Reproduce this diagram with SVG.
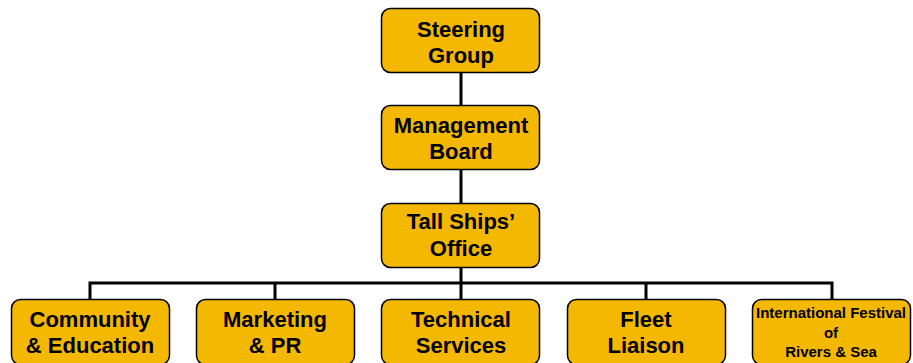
<svg xmlns="http://www.w3.org/2000/svg" width="913" height="363" viewBox="0 0 913 363">
  <style>
    .box { fill: #F5B800; stroke: #000; stroke-width: 1.5; }
    .lbl { font-family: "Liberation Sans", Arial, sans-serif; font-weight: bold; font-size: 22px; fill: #000; text-anchor: middle; }
    .sm { font-size: 15px; }
    .wire { stroke: #000; stroke-width: 3; fill: none; }
  </style>
  <rect width="913" height="363" fill="#fff"/>

  <g id="connectors">
    <line class="wire" x1="461" y1="73" x2="461" y2="105"/>
    <line class="wire" x1="461" y1="170" x2="461" y2="203"/>
    <line class="wire" x1="461" y1="267" x2="461" y2="299"/>
    <polyline class="wire" points="90,299 90,283 832,283 832,299"/>
    <line class="wire" x1="275" y1="283" x2="275" y2="299"/>
    <line class="wire" x1="646" y1="283" x2="646" y2="299"/>
  </g>

  <g id="steering">
    <rect class="box" x="381.5" y="8.5" width="158" height="64" rx="9"/>
    <text class="lbl" x="461" y="37">Steering</text>
    <text class="lbl" x="461" y="63">Group</text>
  </g>
  <g id="management">
    <rect class="box" x="381.5" y="105.5" width="158" height="64" rx="9"/>
    <text class="lbl" x="461" y="133">Management</text>
    <text class="lbl" x="461" y="159">Board</text>
  </g>
  <g id="office">
    <rect class="box" x="381.5" y="203.5" width="158" height="64" rx="9"/>
    <text class="lbl" x="461" y="229">Tall Ships’</text>
    <text class="lbl" x="461" y="256">Office</text>
  </g>
  <g id="community">
    <rect class="box" x="11.5" y="299.5" width="158" height="65" rx="9"/>
    <text class="lbl" x="90" y="327">Community</text>
    <text class="lbl" x="90" y="353">&amp; Education</text>
  </g>
  <g id="marketing">
    <rect class="box" x="196.5" y="299.5" width="158" height="65" rx="9"/>
    <text class="lbl" x="275" y="327">Marketing</text>
    <text class="lbl" x="275" y="353">&amp; PR</text>
  </g>
  <g id="technical">
    <rect class="box" x="381.5" y="299.5" width="158" height="65" rx="9"/>
    <text class="lbl" x="461" y="327">Technical</text>
    <text class="lbl" x="461" y="353">Services</text>
  </g>
  <g id="fleet">
    <rect class="box" x="567.5" y="299.5" width="158" height="65" rx="9"/>
    <text class="lbl" x="646" y="327">Fleet</text>
    <text class="lbl" x="646" y="353">Liaison</text>
  </g>
  <g id="festival">
    <rect class="box" x="752.5" y="299.5" width="158" height="65" rx="9"/>
    <text class="lbl sm" x="831" y="318">International Festival</text>
    <text class="lbl sm" x="831" y="338">of</text>
    <text class="lbl sm" x="831" y="357">Rivers &amp; Sea</text>
  </g>
</svg>
